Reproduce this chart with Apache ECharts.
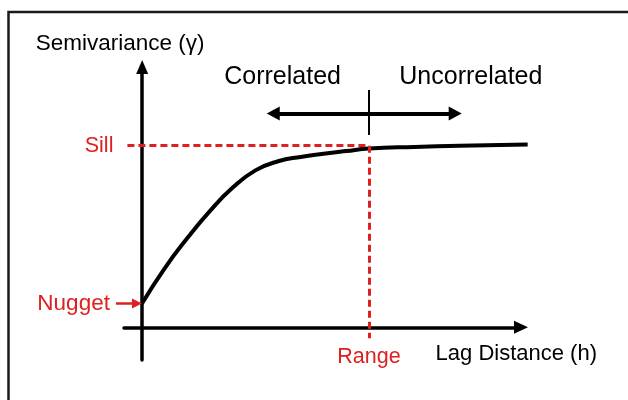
<!DOCTYPE html>
<html><head><meta charset="utf-8">
<script src="https://cdn.jsdelivr.net/npm/echarts@6/dist/echarts.min.js"></script>
<style>html,body{margin:0;padding:0;background:#fff}#chart{width:628px;height:400px}</style>
</head><body><div id="chart"></div>
<script>
// Semivariogram: lag distance h and semivariance gamma
const lagValues   = [0, 1, 2, 3, 4, 5, 6, 7, 8, 9, 10, 12, 14, 17];
const gammaValues = [1.31, 3.25, 4.91, 6.41, 7.69, 8.64, 9.14, 9.38, 9.55, 9.7, 9.84, 9.93, 9.99, 10.07];
const nuggetValue = 1.31;
const sillValue = 10;
const rangeValue = 10;
const regionNames = ['Correlated', 'Uncorrelated'];
const regionLag = [6.19, 14.49];
const markerNames = ['Sill', 'Nugget', 'Range'];
const axisTitles = ['Lag Distance (h)', 'Semivariance (\u03b3)'];

const RED = '#dd2020';
const FONT = "'Liberation Sans', Arial, sans-serif";

const curveData = lagValues.map((h, i) => [h, gammaValues[i]]);
const regionY = 13.77;

const hiddenAxis = {
  type: 'value', show: false, splitLine: { show: false }
};

const option = {
  animation: false,
  textStyle: { fontFamily: FONT },
  graphic: [{
    type: 'rect', silent: true, z: -1,
    shape: { x: 8.5, y: 12, width: 660, height: 450 },
    style: { fill: 'none', stroke: '#1a1a1a', lineWidth: 2.5 }
  }],
  grid: [
    { left: 124, right: 107, top: 67, bottom: 40 },
    // same scale as grid 0, wider extent (hidden axes) so nothing is clipped
    { left: 142 - 5 * 22.686, right: 628 - (142 + 18 * 22.686), top: 67, bottom: 40 }
  ],
  xAxis: [{
    type: 'value', min: -0.8, max: 16.7, gridIndex: 0,
    axisLine: { onZero: true, symbol: ['none', 'triangle'], symbolSize: [13, 14],
      lineStyle: { color: '#000', width: 3.5 } },
    axisTick: { show: false }, axisLabel: { show: false }, splitLine: { show: false },
    name: axisTitles[0], nameLocation: 'end', nameGap: 76,
    nameTextStyle: { color: '#000', fontSize: 22, fontFamily: FONT, align: 'right', verticalAlign: 'top', padding: [16, 0, 0, 0] }
  }, Object.assign({}, hiddenAxis, { gridIndex: 1, min: -5, max: 18 })],
  yAxis: [{
    type: 'value', min: -1.8, max: 14.33, gridIndex: 0,
    axisLine: { onZero: true, symbol: ['none', 'triangle'], symbolSize: [12, 14],
      lineStyle: { color: '#000', width: 3.5 } },
    axisTick: { show: false }, axisLabel: { show: false }, splitLine: { show: false },
    name: axisTitles[1], nameLocation: 'end', nameGap: 12,
    nameTextStyle: { color: '#000', fontSize: 22.5, fontFamily: FONT, align: 'center', padding: [0, 44, 0, 0] }
  }, Object.assign({}, hiddenAxis, { gridIndex: 1, min: -1.8, max: 14.33 })],
  series: [
    {
      name: 'model', type: 'line', data: curveData, smooth: 0.5,
      xAxisIndex: 1, yAxisIndex: 1,
      symbol: 'none', clip: false, silent: true, z: 4,
      lineStyle: { color: '#000', width: 4 }
    },
    {
      name: 'sill-range', type: 'line', data: [], clip: false, silent: true, z: 3,
      markLine: {
        silent: true, animation: false, symbol: ['none', 'none'],
        lineStyle: { color: RED, width: 3, type: [7, 4] },
        data: [
          [{ coord: [-0.65, sillValue],
             label: { show: true, position: 'start', formatter: markerNames[0], color: RED, fontSize: 21.5, fontFamily: FONT, distance: 14 } },
           { coord: [rangeValue, sillValue] }],
          [{ coord: [rangeValue, sillValue],
             label: { show: true, position: 'end', formatter: markerNames[2], color: RED, fontSize: 21.5, fontFamily: FONT, distance: 8 } },
           { coord: [rangeValue, -0.6] }]
        ]
      }
    },
    {
      name: 'nugget', type: 'line', data: [], clip: false, silent: true, z: 3,
      xAxisIndex: 1, yAxisIndex: 1,
      markLine: {
        silent: true, animation: false, symbol: ['none', 'triangle'], symbolSize: [10, 10],
        lineStyle: { color: RED, width: 2.5, type: 'solid' },
        data: [
          [{ coord: [-1.15, nuggetValue],
             label: { show: true, position: 'start', formatter: markerNames[1], color: RED, fontSize: 22.5, fontFamily: FONT, distance: 6 } },
           { coord: [-0.22, nuggetValue] }]
        ]
      }
    },
    {
      name: 'split', type: 'line', data: [], clip: false, silent: true, z: 3,
      markLine: {
        silent: true, animation: false, symbol: ['triangle', 'triangle'], symbolSize: [14, 13],
        lineStyle: { color: '#000', width: 4, type: 'solid' },
        label: { show: false },
        data: [
          [{ coord: [5.78, 11.77] }, { coord: [13.8, 11.77] }],
          [{ coord: [rangeValue, 13.06], symbol: 'none', lineStyle: { width: 2 } },
           { coord: [rangeValue, 10.58], symbol: 'none' }]
        ]
      }
    },
    {
      name: 'regions', type: 'scatter', symbolSize: 0, silent: true, z: 5,
      itemStyle: { color: 'transparent', opacity: 1 },
      data: regionNames.map((n, i) => ({ name: n, value: [regionLag[i], regionY] })),
      label: { show: true, position: 'inside', formatter: '{b}', color: '#000', opacity: 1, fontSize: 25, fontFamily: FONT }
    }
  ]
};

const chart = echarts.init(document.getElementById('chart'), null, { renderer: 'canvas' });
chart.setOption(option);
</script>
</body></html>
